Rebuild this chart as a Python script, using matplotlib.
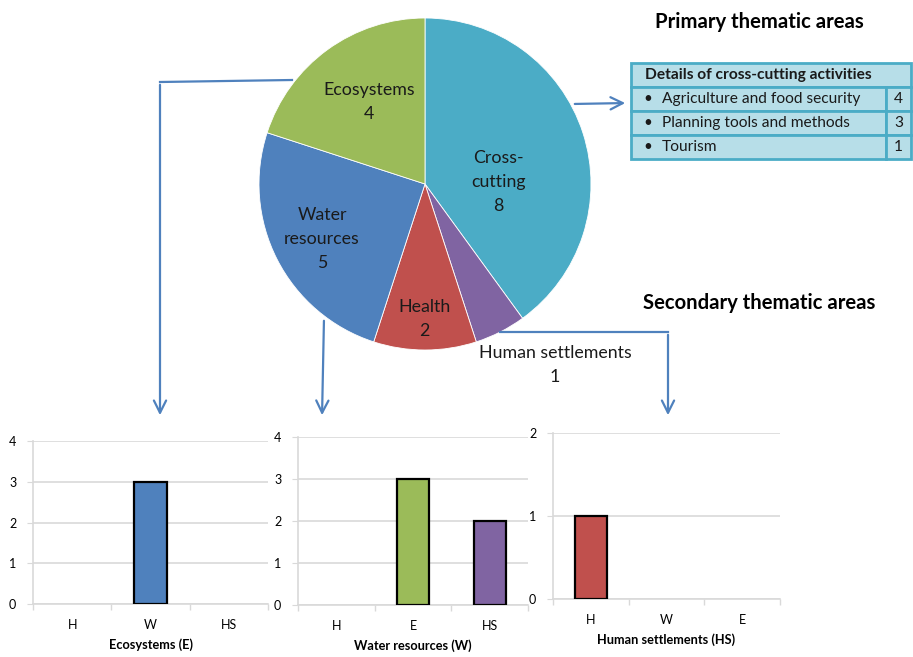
import matplotlib.pyplot as plt
from matplotlib.patches import Rectangle

# ---- data ----
pie_labels = ['Cross-\ncutting', 'Human settlements', 'Health', 'Water\nresources', 'Ecosystems']
pie_values = [8, 1, 2, 5, 4]

activities = ['Agriculture and food security', 'Planning tools and methods', 'Tourism']
activity_counts = [4, 3, 1]

eco_cats = ['H', 'W', 'HS']
eco_vals = [0, 3, 0]
water_cats = ['H', 'E', 'HS']
water_vals = [0, 3, 2]
hs_cats = ['H', 'W', 'E']
hs_vals = [1, 0, 0]

colors = {'Cross-\ncutting': '#4BACC6', 'Human settlements': '#8064A2', 'Health': '#C0504D',
          'Water\nresources': '#4F81BD', 'Ecosystems': '#9BBB59'}
cat_colors = {'H': '#C0504D', 'W': '#4F81BD', 'E': '#9BBB59', 'HS': '#8064A2'}

W, H = 913, 657
plt.rcParams['font.family'] = 'Lato'


def rect(x0, y0, x1, y1):
    # pixel box (top-down) -> figure fraction
    return [x0 / W, 1 - y1 / H, (x1 - x0) / W, (y1 - y0) / H]


def main():
    fig = plt.figure(figsize=(W / 100, H / 100), dpi=100)

    # overlay for arrows / free text, in pixel coords
    ov = fig.add_axes([0, 0, 1, 1], zorder=3)
    ov.set_xlim(0, W)
    ov.set_ylim(H, 0)
    ov.axis('off')
    ov.patch.set_alpha(0)

    # pie
    cx, cy, r = 425, 184, 166
    pax = fig.add_axes(rect(cx - r, cy - r, cx + r, cy + r), zorder=2)
    pax.pie(pie_values, colors=[colors[l] for l in pie_labels], startangle=90,
            counterclock=False, radius=1, wedgeprops=dict(edgecolor='white', linewidth=0.6))
    pax.set_xlim(-1, 1)
    pax.set_ylim(-1, 1)
    pax.set_aspect('equal')
    pax.axis('off')

    label_pos = {'Cross-\ncutting': (498, 182), 'Human settlements': (555, 365),
                 'Health': (424, 319), 'Water\nresources': (322, 239), 'Ecosystems': (369, 102)}
    for lab, v in zip(pie_labels, pie_values):
        x, y = label_pos[lab]
        ov.text(x, y, f'{lab}\n{v}', ha='center', va='center', fontsize=12.8,
                linespacing=1.6, color='#1a1a1a', zorder=5)

    # arrows
    blue = '#4F81BD'
    ap = dict(arrowstyle='->', color=blue, lw=1.6, mutation_scale=22)
    ov.plot([292, 160], [80, 82], color=blue, lw=1.6)
    ov.annotate('', xy=(160, 418), xytext=(160, 82), arrowprops=ap)
    ov.annotate('', xy=(322, 418), xytext=(324, 318), arrowprops=ap)
    ov.plot([500, 668], [332, 332], color=blue, lw=1.6)
    ov.annotate('', xy=(668, 418), xytext=(668, 332), arrowprops=ap)
    ov.annotate('', xy=(628, 103), xytext=(572, 104), arrowprops=ap)

    # headings
    ov.text(759, 22, 'Primary thematic areas', ha='center', va='center',
            fontsize=14.6, fontweight='bold')
    ov.text(759, 303, 'Secondary thematic areas', ha='center', va='center',
            fontsize=14.6, fontweight='bold')

    # table
    tx0, tx1, tdiv = 631, 911, 886
    ty0, rh = 63, 24
    edge = '#4BACC6'
    fill = '#B7DEE8'
    ov.add_patch(Rectangle((tx0, ty0), tx1 - tx0, rh, facecolor=fill, edgecolor=edge, lw=2))
    ov.text(tx0 + 14, ty0 + rh / 2, 'Details of cross-cutting activities', ha='left',
            va='center', fontsize=11.2, fontweight='bold', color='#1a1a1a')
    for i, (act, cnt) in enumerate(zip(activities, activity_counts)):
        y = ty0 + rh * (i + 1)
        ov.add_patch(Rectangle((tx0, y), tdiv - tx0, rh, facecolor=fill, edgecolor=edge, lw=2))
        ov.add_patch(Rectangle((tdiv, y), tx1 - tdiv, rh, facecolor=fill, edgecolor=edge, lw=2))
        ov.text(tx0 + 17, y + rh / 2, '\u2022', ha='center', va='center', fontsize=11, color='#1a1a1a')
        ov.text(tx0 + 31, y + rh / 2, act, ha='left', va='center', fontsize=11.2, color='#1a1a1a')
        ov.text((tdiv + tx1) / 2, y + rh / 2, str(cnt), ha='center', va='center',
                fontsize=11.2, color='#1a1a1a')

    # bar charts
    charts = [
        (rect(33, 441, 268, 604), eco_cats, eco_vals, 4, 'Ecosystems (E)'),
        (rect(298, 437, 528, 605), water_cats, water_vals, 4, 'Water resources (W)'),
        (rect(553, 433, 780, 599), hs_cats, hs_vals, 2, 'Human settlements (HS)'),
    ]
    grid = '#D9D9D9'
    for box, cats, vals, top, title in charts:
        ax = fig.add_axes(box, zorder=1)
        ax.patch.set_alpha(0)
        xs = range(len(cats))
        bars = ax.bar(xs, vals, width=0.42, color=[cat_colors[c] for c in cats],
                      edgecolor='black', linewidth=1.6, zorder=3)
        for b, v in zip(bars, vals):
            if v == 0:
                b.set_visible(False)
        ax.set_xlim(-0.5, len(cats) - 0.5)
        ax.set_ylim(0, top)
        ax.set_yticks(range(top + 1))
        ax.set_xticks(list(xs))
        ax.set_xticklabels(cats)
        ax.set_xticks([i + 0.5 for i in range(-1, len(cats))], minor=True)
        ax.tick_params(axis='x', which='major', length=0, pad=11, labelsize=9)
        ax.tick_params(axis='x', which='minor', length=4, color=grid, width=1)
        ax.tick_params(axis='y', length=4, color=grid, labelsize=9, pad=8)
        ax.grid(axis='y', color=grid, lw=1.2, zorder=0)
        for s in ['top', 'right']:
            ax.spines[s].set_visible(False)
        for s in ['left', 'bottom']:
            ax.spines[s].set_color(grid)
            ax.spines[s].set_linewidth(1.2)
        ax.set_xlabel(title, fontsize=9.2, fontweight='bold', labelpad=5)

    fig.savefig('out.png', dpi=100, facecolor='white')


if __name__ == "__main__":
    main()
